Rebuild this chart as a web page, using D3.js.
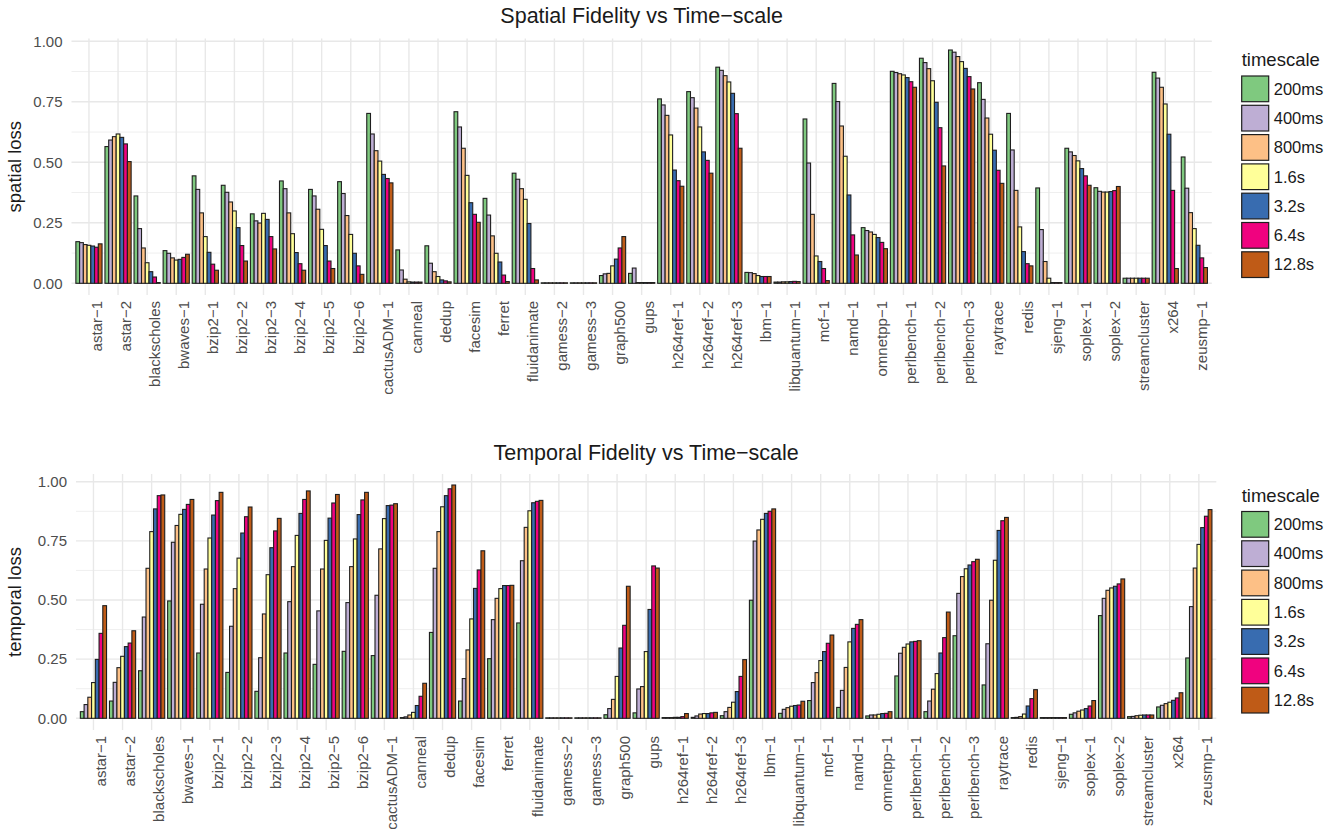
<!DOCTYPE html>
<html>
<head>
<meta charset="utf-8">
<script src="https://cdn.jsdelivr.net/npm/d3@7"></script>
<style>
  body { margin: 0; background: #ffffff; }
  svg { display: block; font-family: "Liberation Sans", Arial, Helvetica, sans-serif; }
</style>
</head>
<body>
<div id="chart"></div>
<script>
const categories = [
    "astar−1", "astar−2", "blackscholes", "bwaves−1", "bzip2−1", "bzip2−2", "bzip2−3",
    "bzip2−4", "bzip2−5", "bzip2−6", "cactusADM−1", "canneal", "dedup", "facesim",
    "ferret", "fluidanimate", "gamess−2", "gamess−3", "graph500", "gups", "h264ref−1",
    "h264ref−2", "h264ref−3", "lbm−1", "libquantum−1", "mcf−1", "namd−1", "omnetpp−1",
    "perlbench−1", "perlbench−2", "perlbench−3", "raytrace", "redis", "sjeng−1",
    "soplex−1", "soplex−2", "streamcluster", "x264", "zeusmp−1"
];

const timescales = ["200ms", "400ms", "800ms", "1.6s", "3.2s", "6.4s", "12.8s"];

// one row per category, one value per timescale
const spatialLoss = [
    [0.172, 0.168, 0.160, 0.157, 0.154, 0.149, 0.163],
    [0.565, 0.592, 0.606, 0.617, 0.603, 0.576, 0.503],
    [0.361, 0.226, 0.146, 0.085, 0.048, 0.026, 0.003],
    [0.135, 0.124, 0.105, 0.096, 0.099, 0.107, 0.120],
    [0.444, 0.388, 0.291, 0.193, 0.128, 0.079, 0.054],
    [0.405, 0.376, 0.336, 0.299, 0.230, 0.156, 0.092],
    [0.287, 0.258, 0.249, 0.289, 0.264, 0.193, 0.142],
    [0.423, 0.391, 0.291, 0.205, 0.127, 0.081, 0.054],
    [0.388, 0.361, 0.306, 0.223, 0.156, 0.092, 0.061],
    [0.420, 0.371, 0.280, 0.202, 0.124, 0.072, 0.037],
    [0.702, 0.617, 0.548, 0.505, 0.450, 0.433, 0.415],
    [0.138, 0.055, 0.017, 0.006, 0.005, 0.005, 0.005],
    [0.155, 0.083, 0.048, 0.028, 0.014, 0.010, 0.006],
    [0.709, 0.646, 0.558, 0.446, 0.333, 0.285, 0.252],
    [0.351, 0.282, 0.196, 0.124, 0.088, 0.034, 0.007],
    [0.455, 0.430, 0.391, 0.347, 0.247, 0.061, 0.014],
    [0.002, 0.002, 0.002, 0.002, 0.002, 0.002, 0.002],
    [0.002, 0.002, 0.002, 0.002, 0.002, 0.002, 0.002],
    [0.032, 0.039, 0.041, 0.072, 0.100, 0.146, 0.193],
    [0.041, 0.063, 0.003, 0.003, 0.003, 0.003, 0.003],
    [0.762, 0.737, 0.694, 0.613, 0.468, 0.424, 0.401],
    [0.792, 0.767, 0.724, 0.646, 0.543, 0.508, 0.455],
    [0.893, 0.880, 0.858, 0.832, 0.785, 0.701, 0.558],
    [0.045, 0.044, 0.040, 0.032, 0.028, 0.028, 0.028],
    [0.005, 0.005, 0.006, 0.006, 0.007, 0.008, 0.007],
    [0.679, 0.497, 0.285, 0.113, 0.090, 0.061, 0.011],
    [0.826, 0.751, 0.650, 0.525, 0.365, 0.200, 0.117],
    [0.230, 0.218, 0.212, 0.202, 0.189, 0.169, 0.143],
    [0.876, 0.871, 0.866, 0.861, 0.850, 0.833, 0.810],
    [0.930, 0.912, 0.887, 0.837, 0.748, 0.643, 0.485],
    [0.964, 0.955, 0.937, 0.916, 0.888, 0.854, 0.803],
    [0.829, 0.760, 0.683, 0.616, 0.550, 0.467, 0.413],
    [0.702, 0.551, 0.384, 0.233, 0.131, 0.081, 0.072],
    [0.394, 0.222, 0.090, 0.021, 0.003, 0.003, 0.003],
    [0.558, 0.543, 0.528, 0.506, 0.474, 0.444, 0.405],
    [0.395, 0.380, 0.377, 0.377, 0.379, 0.383, 0.400],
    [0.021, 0.021, 0.021, 0.021, 0.021, 0.021, 0.021],
    [0.872, 0.848, 0.810, 0.741, 0.616, 0.384, 0.061],
    [0.522, 0.393, 0.292, 0.226, 0.157, 0.105, 0.065]
];

const temporalLoss = [
    [0.028, 0.058, 0.089, 0.151, 0.249, 0.359, 0.476],
    [0.073, 0.152, 0.214, 0.262, 0.303, 0.318, 0.370],
    [0.201, 0.428, 0.634, 0.789, 0.885, 0.941, 0.944],
    [0.496, 0.744, 0.815, 0.862, 0.883, 0.904, 0.925],
    [0.276, 0.482, 0.631, 0.762, 0.859, 0.920, 0.955],
    [0.194, 0.389, 0.548, 0.677, 0.783, 0.852, 0.893],
    [0.114, 0.256, 0.441, 0.607, 0.721, 0.792, 0.845],
    [0.276, 0.493, 0.641, 0.773, 0.866, 0.925, 0.961],
    [0.228, 0.454, 0.631, 0.752, 0.846, 0.910, 0.946],
    [0.283, 0.489, 0.641, 0.758, 0.861, 0.923, 0.955],
    [0.265, 0.520, 0.716, 0.844, 0.899, 0.901, 0.907],
    [0.003, 0.006, 0.014, 0.025, 0.054, 0.093, 0.148],
    [0.363, 0.634, 0.789, 0.894, 0.941, 0.970, 0.986],
    [0.073, 0.168, 0.289, 0.420, 0.549, 0.627, 0.708],
    [0.252, 0.417, 0.507, 0.548, 0.561, 0.561, 0.562],
    [0.403, 0.666, 0.807, 0.877, 0.911, 0.917, 0.921],
    [0.002, 0.002, 0.002, 0.002, 0.002, 0.002, 0.002],
    [0.002, 0.002, 0.002, 0.002, 0.002, 0.002, 0.002],
    [0.015, 0.041, 0.080, 0.177, 0.297, 0.393, 0.558],
    [0.023, 0.124, 0.134, 0.282, 0.460, 0.644, 0.635],
    [0.003, 0.003, 0.003, 0.004, 0.004, 0.007, 0.020],
    [0.004, 0.010, 0.018, 0.020, 0.020, 0.023, 0.025],
    [0.011, 0.028, 0.046, 0.068, 0.113, 0.177, 0.248],
    [0.499, 0.749, 0.796, 0.841, 0.866, 0.875, 0.885],
    [0.021, 0.038, 0.045, 0.051, 0.054, 0.056, 0.072],
    [0.075, 0.151, 0.193, 0.244, 0.282, 0.317, 0.352],
    [0.046, 0.118, 0.215, 0.323, 0.380, 0.397, 0.417],
    [0.010, 0.014, 0.014, 0.017, 0.020, 0.021, 0.028],
    [0.179, 0.275, 0.300, 0.314, 0.323, 0.325, 0.328],
    [0.028, 0.073, 0.123, 0.189, 0.276, 0.341, 0.449],
    [0.349, 0.528, 0.599, 0.632, 0.648, 0.662, 0.672],
    [0.141, 0.315, 0.499, 0.668, 0.794, 0.835, 0.849],
    [0.003, 0.004, 0.007, 0.018, 0.052, 0.083, 0.121],
    [0.003, 0.003, 0.003, 0.003, 0.003, 0.003, 0.003],
    [0.017, 0.023, 0.030, 0.035, 0.041, 0.052, 0.075],
    [0.434, 0.507, 0.541, 0.551, 0.558, 0.568, 0.589],
    [0.007, 0.008, 0.011, 0.013, 0.014, 0.014, 0.014],
    [0.048, 0.055, 0.062, 0.068, 0.076, 0.086, 0.108],
    [0.255, 0.472, 0.635, 0.735, 0.806, 0.854, 0.882]
];

const yTicks = [0, 0.25, 0.5, 0.75, 1];
const yMinorTicks = [0.125, 0.375, 0.625, 0.875];

const width = 1343;
const height = 836;

const svg = d3.select("#chart")
    .append("svg")
    .attr("width", width)
    .attr("height", height);

const color = d3.scaleOrdinal()
    .domain(timescales)
    .range(d3.schemeAccent);

function drawPanel(p, values) {
    const x = d3.scaleBand()
        .domain(categories)
        .range([p.left, p.right])
        .paddingInner(0.1)
        .paddingOuter(0.15);

    const xInner = d3.scaleBand()
        .domain(timescales)
        .range([0, x.bandwidth()]);

    const y = d3.scaleLinear()
        .domain([0, 1])
        .range([p.y0, p.y1]);

    const g = svg.append("g");

    // grid
    g.selectAll(".minor")
        .data(yMinorTicks)
        .enter()
        .append("line")
        .attr("x1", p.left).attr("x2", p.right)
        .attr("y1", d => y(d)).attr("y2", d => y(d))
        .style("stroke", "#efefef")
        .style("stroke-width", 1);

    g.selectAll(".major")
        .data(yTicks)
        .enter()
        .append("line")
        .attr("x1", p.left).attr("x2", p.right)
        .attr("y1", d => y(d)).attr("y2", d => y(d))
        .style("stroke", "#e8e8e8")
        .style("stroke-width", 1.4);

    g.selectAll(".vgrid")
        .data(categories)
        .enter()
        .append("line")
        .attr("x1", d => x(d) + x.bandwidth() / 2)
        .attr("x2", d => x(d) + x.bandwidth() / 2)
        .attr("y1", p.panelTop).attr("y2", p.panelBottom)
        .style("stroke", "#e8e8e8")
        .style("stroke-width", 1.4);

    // bars
    const groups = g.selectAll(".cat")
        .data(categories)
        .enter()
        .append("g")
        .attr("transform", d => `translate(${x(d)},0)`);

    groups.selectAll("rect")
        .data((d, i) => values[i].map((v, j) => ({ t: timescales[j], v: v })))
        .enter()
        .append("rect")
        .attr("x", d => xInner(d.t))
        .attr("width", xInner.bandwidth())
        .attr("y", d => y(d.v))
        .attr("height", d => y(0) - y(d.v))
        .style("fill", d => color(d.t))
        .style("stroke", "#1e1e1e")
        .style("stroke-width", 1.1);

    // axes
    const yAxis = g.append("g")
        .attr("transform", `translate(${p.left},0)`)
        .call(d3.axisLeft(y).tickValues(yTicks).tickFormat(d3.format(".2f")).tickSize(0).tickPadding(9));
    yAxis.select(".domain").remove();
    yAxis.selectAll("text")
        .style("font-size", "15px")
        .style("fill", "#4d4d4d");

    const xAxis = g.append("g")
        .attr("transform", `translate(0,${p.panelBottom})`)
        .call(d3.axisBottom(x).tickSize(0));
    xAxis.select(".domain").remove();
    xAxis.selectAll("text")
        .attr("transform", "rotate(-90)")
        .attr("text-anchor", "end")
        .attr("x", -6)
        .attr("y", 0)
        .attr("dy", "0.85em")
        .style("font-size", "15px")
        .style("fill", "#4d4d4d");

    // titles
    svg.append("text")
        .attr("x", (p.left + p.right) / 2)
        .attr("y", p.titleY)
        .attr("text-anchor", "middle")
        .style("font-size", "21.5px")
        .style("fill", "#1a1a1a")
        .text(p.title);

    svg.append("text")
        .attr("transform", `translate(21,${(p.panelTop + p.panelBottom) / 2}) rotate(-90)`)
        .attr("text-anchor", "middle")
        .style("font-size", "18.5px")
        .style("fill", "#1a1a1a")
        .text(p.yLabel);

    // legend
    const legend = svg.append("g")
        .attr("transform", `translate(1241.7,${p.legendTop})`);

    legend.append("text")
        .attr("x", 0)
        .attr("y", -10)
        .style("font-size", "18.5px")
        .style("fill", "#1a1a1a")
        .text("timescale");

    const keys = legend.selectAll(".key")
        .data(timescales)
        .enter()
        .append("g")
        .attr("transform", (d, i) => `translate(0,${i * 29.3})`);

    keys.append("rect")
        .attr("width", 27)
        .attr("height", 25.7)
        .style("fill", d => color(d))
        .style("stroke", "#1e1e1e")
        .style("stroke-width", 1.2);

    keys.append("text")
        .attr("x", 32)
        .attr("y", 12.85)
        .attr("dy", "0.35em")
        .style("font-size", "16.5px")
        .style("fill", "#1a1a1a")
        .text(d => d);
}

drawPanel({
    title: "Spatial Fidelity vs Time−scale",
    yLabel: "spatial loss",
    left: 71.5, right: 1211.8,
    y0: 283.3, y1: 41.3,
    panelTop: 38.4, panelBottom: 295,
    titleY: 23.3,
    legendTop: 76
}, spatialLoss);

drawPanel({
    title: "Temporal Fidelity vs Time−scale",
    yLabel: "temporal loss",
    left: 76, right: 1216.3,
    y0: 718.3, y1: 481.7,
    panelTop: 474, panelBottom: 730,
    titleY: 459.8,
    legendTop: 511.5
}, temporalLoss);
</script>
</body>
</html>
